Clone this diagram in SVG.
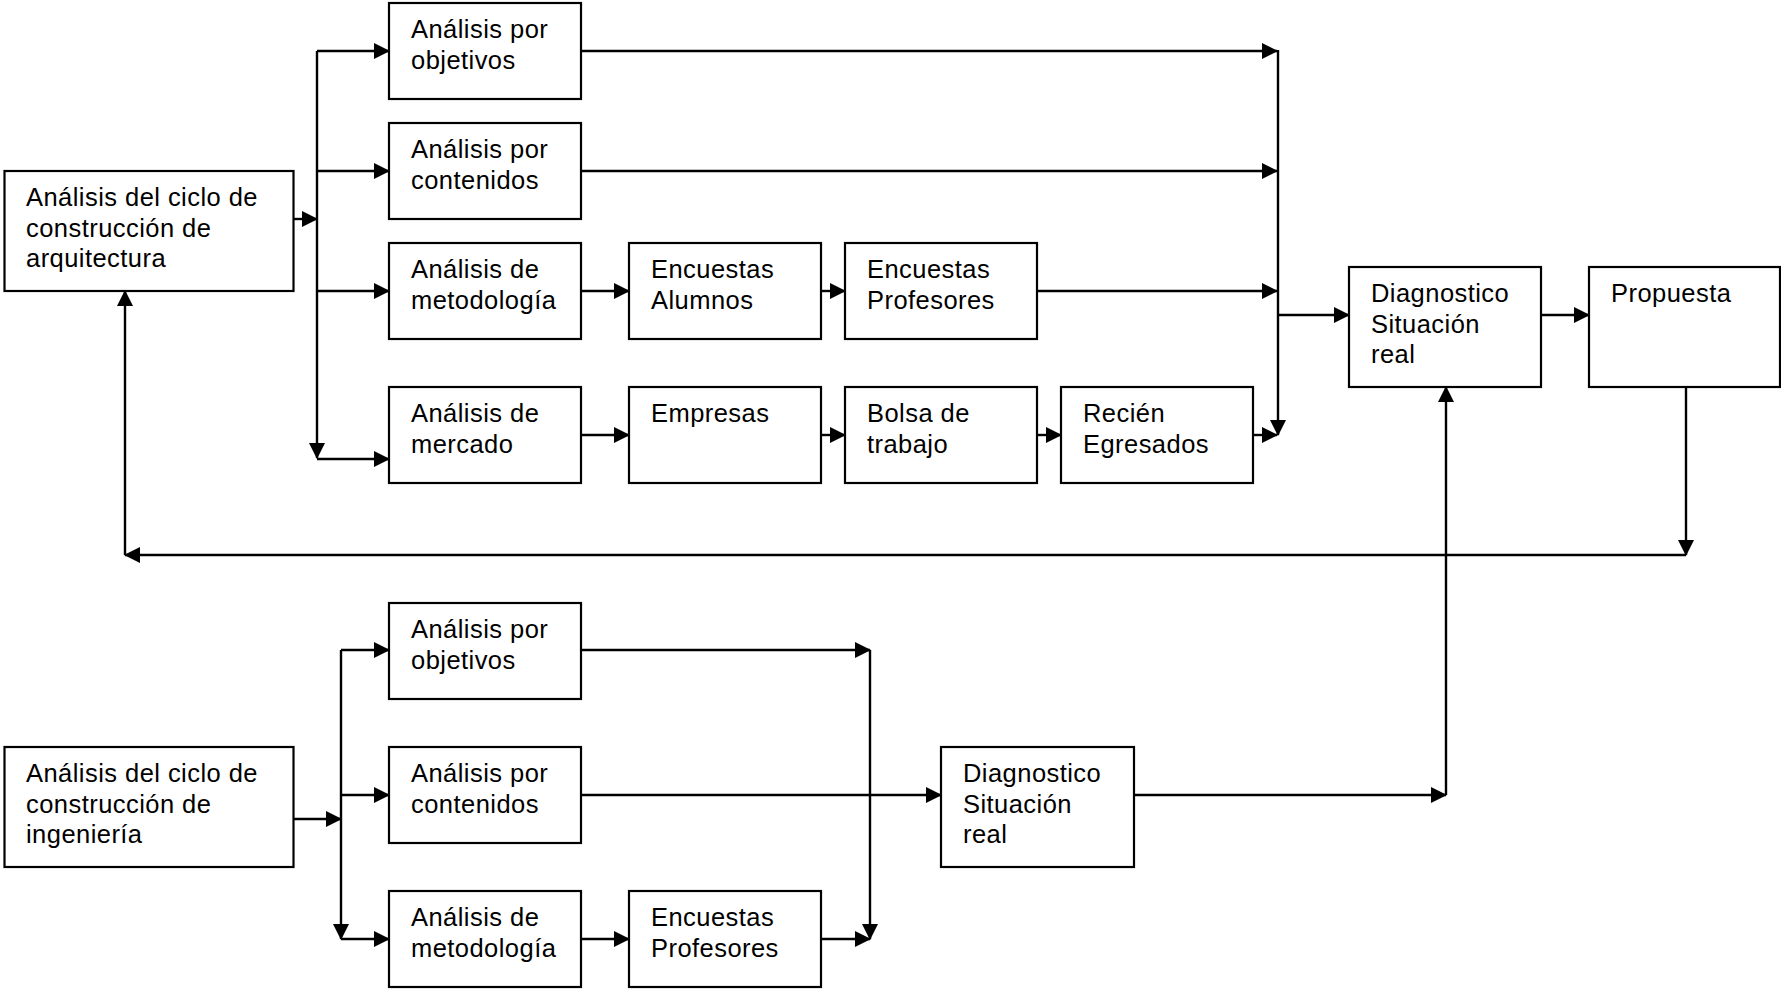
<svg xmlns="http://www.w3.org/2000/svg" width="1781" height="989" viewBox="0 0 1781 989">
<style>
.box{fill:#fff;stroke:#000;stroke-width:2.2}
.t{font-family:"Liberation Sans",Arial,sans-serif;font-size:25.5px;letter-spacing:0.45px;fill:#000}
.c{fill:none;stroke:#000;stroke-width:2.4}
.a{marker-end:url(#ah)}
</style>
<defs>
<marker id="ah" viewBox="0 0 16 16" refX="15" refY="8" markerWidth="16" markerHeight="16" markerUnits="userSpaceOnUse" orient="auto"><path d="M0,0 L16,8 L0,16 Z" fill="#000"/></marker>
</defs>
<rect width="1781" height="989" fill="#fff"/>
<g id="connectors">
<line class="c a" x1="293" y1="219" x2="317" y2="219"/>
<line class="c a" x1="317" y1="51" x2="317" y2="458"/>
<line class="c a" x1="317" y1="51" x2="389" y2="51"/>
<line class="c a" x1="317" y1="171" x2="389" y2="171"/>
<line class="c a" x1="317" y1="291" x2="389" y2="291"/>
<line class="c a" x1="317" y1="459" x2="389" y2="459"/>
<line class="c a" x1="581" y1="51" x2="1277" y2="51"/>
<line class="c a" x1="581" y1="171" x2="1277" y2="171"/>
<line class="c a" x1="581" y1="291" x2="629" y2="291"/>
<line class="c a" x1="821" y1="291" x2="845" y2="291"/>
<line class="c a" x1="1037" y1="291" x2="1277" y2="291"/>
<line class="c a" x1="581" y1="435" x2="629" y2="435"/>
<line class="c a" x1="821" y1="435" x2="845" y2="435"/>
<line class="c a" x1="1037" y1="435" x2="1061" y2="435"/>
<line class="c a" x1="1253" y1="435" x2="1277" y2="435"/>
<line class="c a" x1="1278" y1="50" x2="1278" y2="435"/>
<line class="c a" x1="1278" y1="315" x2="1349" y2="315"/>
<line class="c a" x1="1541" y1="315" x2="1589" y2="315"/>
<line class="c a" x1="1686" y1="387" x2="1686" y2="555"/>
<line class="c a" x1="1686" y1="555" x2="125" y2="555"/>
<line class="c a" x1="125" y1="555" x2="125" y2="291"/>
<line class="c a" x1="293" y1="819" x2="341" y2="819"/>
<line class="c a" x1="341" y1="650" x2="341" y2="939"/>
<line class="c a" x1="341" y1="650" x2="389" y2="650"/>
<line class="c a" x1="341" y1="795" x2="389" y2="795"/>
<line class="c a" x1="341" y1="939" x2="389" y2="939"/>
<line class="c a" x1="581" y1="650" x2="870" y2="650"/>
<line class="c a" x1="870" y1="650" x2="870" y2="939"/>
<line class="c a" x1="581" y1="795" x2="941" y2="795"/>
<line class="c a" x1="581" y1="939" x2="629" y2="939"/>
<line class="c a" x1="821" y1="939" x2="870" y2="939"/>
<line class="c a" x1="1134" y1="795" x2="1446" y2="795"/>
<line class="c a" x1="1446" y1="795" x2="1446" y2="387"/>
</g>
<g id="arq"><rect class="box" x="4.5" y="171" width="289" height="120"/><text class="t" x="26" y="206">Análisis del ciclo de</text><text class="t" x="26" y="236.5">construcción de</text><text class="t" x="26" y="267">arquitectura</text></g>
<g id="obj1"><rect class="box" x="389" y="3" width="192" height="96"/><text class="t" x="411" y="38">Análisis por</text><text class="t" x="411" y="68.5">objetivos</text></g>
<g id="cont1"><rect class="box" x="389" y="123" width="192" height="96"/><text class="t" x="411" y="158">Análisis por</text><text class="t" x="411" y="188.5">contenidos</text></g>
<g id="met1"><rect class="box" x="389" y="243" width="192" height="96"/><text class="t" x="411" y="278">Análisis de</text><text class="t" x="411" y="308.5">metodología</text></g>
<g id="merc"><rect class="box" x="389" y="387" width="192" height="96"/><text class="t" x="411" y="422">Análisis de</text><text class="t" x="411" y="452.5">mercado</text></g>
<g id="encal"><rect class="box" x="629" y="243" width="192" height="96"/><text class="t" x="651" y="278">Encuestas</text><text class="t" x="651" y="308.5">Alumnos</text></g>
<g id="encprof1"><rect class="box" x="845" y="243" width="192" height="96"/><text class="t" x="867" y="278">Encuestas</text><text class="t" x="867" y="308.5">Profesores</text></g>
<g id="empresas"><rect class="box" x="629" y="387" width="192" height="96"/><text class="t" x="651" y="422">Empresas</text></g>
<g id="bolsa"><rect class="box" x="845" y="387" width="192" height="96"/><text class="t" x="867" y="422">Bolsa de</text><text class="t" x="867" y="452.5">trabajo</text></g>
<g id="recien"><rect class="box" x="1061" y="387" width="192" height="96"/><text class="t" x="1083" y="422">Recién</text><text class="t" x="1083" y="452.5">Egresados</text></g>
<g id="diag1"><rect class="box" x="1349" y="267" width="192" height="120"/><text class="t" x="1371" y="302">Diagnostico</text><text class="t" x="1371" y="332.5">Situación</text><text class="t" x="1371" y="363">real</text></g>
<g id="propuesta"><rect class="box" x="1589" y="267" width="191" height="120"/><text class="t" x="1611" y="302">Propuesta</text></g>
<g id="ing"><rect class="box" x="4.5" y="747" width="289" height="120"/><text class="t" x="26" y="782">Análisis del ciclo de</text><text class="t" x="26" y="812.5">construcción de</text><text class="t" x="26" y="843">ingeniería</text></g>
<g id="obj2"><rect class="box" x="389" y="603" width="192" height="96"/><text class="t" x="411" y="638">Análisis por</text><text class="t" x="411" y="668.5">objetivos</text></g>
<g id="cont2"><rect class="box" x="389" y="747" width="192" height="96"/><text class="t" x="411" y="782">Análisis por</text><text class="t" x="411" y="812.5">contenidos</text></g>
<g id="met2"><rect class="box" x="389" y="891" width="192" height="96"/><text class="t" x="411" y="926">Análisis de</text><text class="t" x="411" y="956.5">metodología</text></g>
<g id="encprof2"><rect class="box" x="629" y="891" width="192" height="96"/><text class="t" x="651" y="926">Encuestas</text><text class="t" x="651" y="956.5">Profesores</text></g>
<g id="diag2"><rect class="box" x="941" y="747" width="193" height="120"/><text class="t" x="963" y="782">Diagnostico</text><text class="t" x="963" y="812.5">Situación</text><text class="t" x="963" y="843">real</text></g>
</svg>
